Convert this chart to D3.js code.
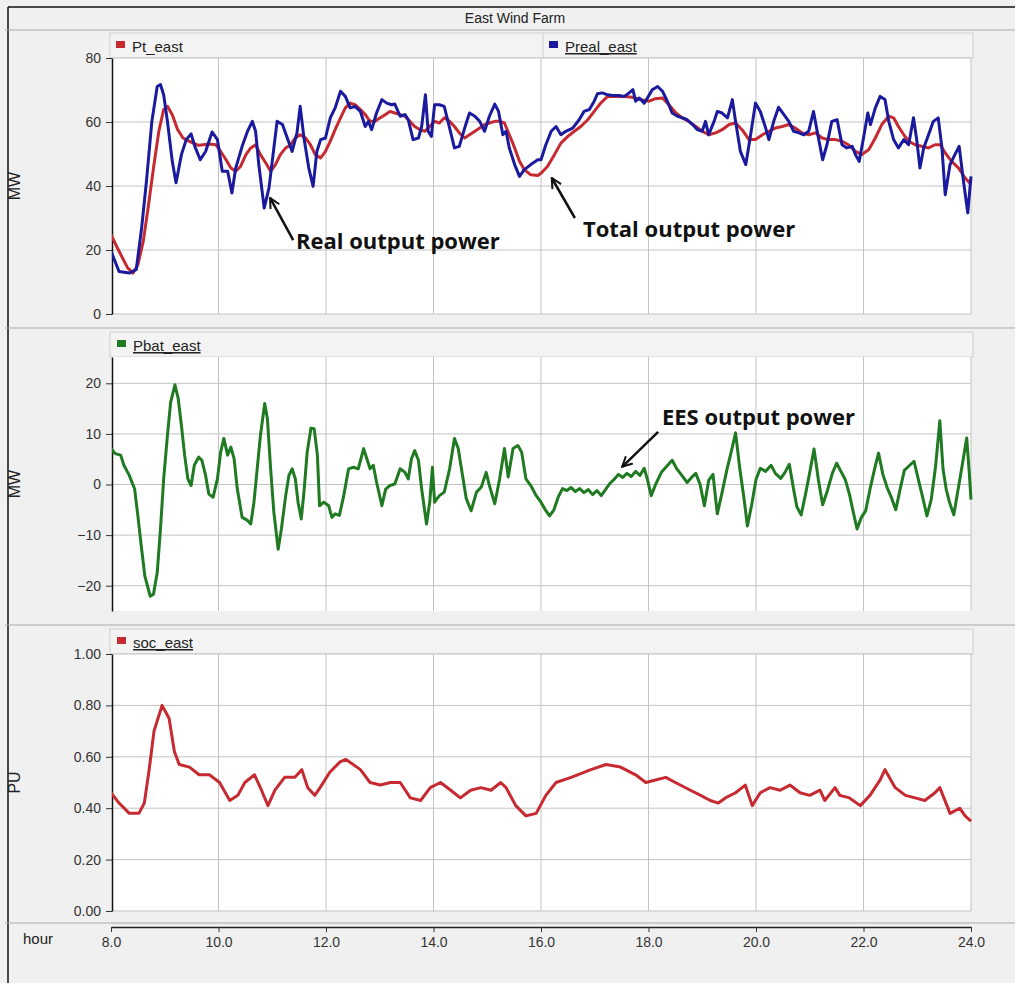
<!DOCTYPE html>
<html>
<head>
<meta charset="utf-8">
<script src="https://cdn.jsdelivr.net/npm/d3@7"></script>
<style>
  body { margin: 0; background: #f0f0f0; }
</style>
</head>
<body>
<svg id="chart" width="1015" height="983"></svg>
<script>
// values: [hour, value]
var hourTicks = [8, 10, 12, 14, 16, 18, 20, 22, 24];
var mwTicks = [0, 20, 40, 60, 80];
var batTicks = [-20, -10, 0, 10, 20];
var socTicks = [0, 0.2, 0.4, 0.6, 0.8, 1.0];

var ptEast = [
  [8.00,24.8],[8.15,19.6],[8.31,14.4],[8.41,12.8],[8.50,15.4],[8.60,22.7],[8.69,33.1],[8.79,45.6],
  [8.89,57.1],[8.98,63.9],[9.05,64.9],[9.14,62.3],[9.24,57.6],[9.34,55.0],[9.43,54.2],[9.53,53.4],
  [9.63,52.7],[9.72,52.9],[9.82,53.1],[9.95,52.9],[10.04,50.8],[10.14,48.2],[10.23,45.6],[10.32,44.6],
  [10.41,46.1],[10.51,49.8],[10.60,51.9],[10.69,52.9],[10.78,49.8],[10.88,47.2],[10.97,44.6],[11.06,46.7],
  [11.15,49.8],[11.25,51.9],[11.34,52.9],[11.43,55.0],[11.52,56.0],[11.62,55.0],[11.71,52.9],[11.80,49.8],
  [11.90,48.8],[11.99,50.8],[12.08,54.0],[12.17,57.6],[12.27,61.3],[12.36,64.4],[12.45,65.9],[12.54,65.4],
  [12.64,63.9],[12.73,62.3],[12.82,60.2],[12.91,60.2],[13.01,61.3],[13.10,62.3],[13.19,63.3],[13.28,62.8],
  [13.38,62.3],[13.47,61.8],[13.56,60.2],[13.65,58.6],[13.75,57.6],[13.84,57.1],[13.93,58.6],[14.02,60.2],
  [14.11,59.7],[14.20,61.3],[14.30,60.2],[14.39,58.6],[14.48,56.6],[14.58,55.0],[14.67,56.0],[14.77,57.1],
  [14.86,58.1],[14.95,59.2],[15.04,59.7],[15.14,60.2],[15.23,60.2],[15.32,59.7],[15.41,56.0],[15.51,51.9],
  [15.60,47.7],[15.69,45.1],[15.81,43.5],[15.94,43.3],[16.00,44.0],[16.12,46.1],[16.25,49.8],[16.37,53.4],
  [16.50,55.5],[16.62,57.1],[16.74,58.6],[16.87,60.7],[16.99,63.3],[17.11,65.9],[17.24,68.0],[17.39,68.0],
  [17.55,68.0],[17.70,67.7],[17.86,67.0],[18.01,66.5],[18.13,67.3],[18.26,67.5],[18.38,65.4],[18.51,62.8],
  [18.63,61.3],[18.75,60.2],[18.88,58.6],[19.00,57.1],[19.12,56.0],[19.25,56.6],[19.37,57.6],[19.50,59.2],
  [19.62,59.7],[19.74,57.6],[19.87,54.5],[19.99,54.5],[20.12,56.0],[20.24,57.1],[20.36,58.1],[20.49,58.6],
  [20.61,59.2],[20.73,58.1],[20.86,56.6],[20.98,56.0],[21.11,56.6],[21.23,55.0],[21.35,54.5],[21.48,54.5],
  [21.60,54.0],[21.72,52.9],[21.85,50.8],[21.97,49.8],[22.10,51.4],[22.22,55.0],[22.34,59.2],[22.47,61.8],
  [22.56,61.3],[22.65,58.6],[22.75,56.0],[22.84,54.0],[22.96,52.9],[23.08,52.4],[23.21,51.9],[23.33,52.9],
  [23.43,52.9],[23.52,50.3],[23.64,47.7],[23.77,45.6],[23.89,42.5],[23.98,40.9],[24.00,42.0]
];

var prealEast = [
  [8.00,19.6],[8.15,13.3],[8.34,12.8],[8.47,13.9],[8.57,26.9],[8.66,41.5],[8.76,60.2],[8.86,71.1],
  [8.92,71.7],[8.98,68.5],[9.05,60.2],[9.14,47.7],[9.21,41.0],[9.31,49.8],[9.40,54.5],[9.49,56.3],
  [9.56,52.4],[9.66,48.2],[9.76,50.8],[9.88,56.9],[9.98,54.5],[10.07,44.6],[10.17,44.6],[10.25,37.8],
  [10.32,45.6],[10.44,52.4],[10.54,57.1],[10.63,60.2],[10.69,57.1],[10.75,46.7],[10.85,33.1],[10.94,39.4],
  [11.03,51.9],[11.09,60.2],[11.19,59.2],[11.28,55.0],[11.37,50.8],[11.46,56.6],[11.52,64.9],[11.59,55.0],
  [11.68,45.6],[11.76,39.9],[11.83,50.8],[11.90,54.5],[11.99,55.0],[12.08,61.3],[12.17,64.4],[12.27,69.6],
  [12.36,68.0],[12.45,64.4],[12.54,64.9],[12.64,63.3],[12.73,58.6],[12.79,60.2],[12.85,57.6],[12.94,62.8],
  [13.04,67.0],[13.13,65.9],[13.22,65.4],[13.28,65.6],[13.38,61.8],[13.47,62.3],[13.53,60.7],[13.62,54.5],
  [13.72,55.0],[13.78,58.6],[13.85,68.5],[13.90,57.1],[13.96,55.5],[14.02,65.4],[14.11,65.4],[14.20,64.9],
  [14.30,58.1],[14.39,51.9],[14.48,52.4],[14.58,58.1],[14.67,62.8],[14.77,61.8],[14.86,60.2],[14.95,57.1],
  [15.04,61.8],[15.14,65.6],[15.21,63.3],[15.29,56.0],[15.35,57.1],[15.41,51.9],[15.51,46.7],[15.60,43.0],
  [15.69,45.1],[15.81,46.7],[15.94,48.2],[16.00,48.2],[16.09,52.9],[16.19,57.1],[16.28,58.6],[16.37,56.0],
  [16.46,57.1],[16.59,58.1],[16.71,60.7],[16.80,63.3],[16.90,63.9],[16.99,66.5],[17.05,68.8],[17.14,69.1],
  [17.24,68.5],[17.33,68.3],[17.45,68.3],[17.55,68.0],[17.64,69.1],[17.71,70.1],[17.76,66.5],[17.83,67.5],
  [17.92,65.9],[17.98,67.5],[18.07,70.1],[18.17,71.1],[18.26,69.6],[18.35,66.5],[18.44,62.8],[18.54,61.8],
  [18.63,61.3],[18.72,60.7],[18.82,59.2],[18.91,57.6],[19.00,57.1],[19.06,60.2],[19.12,56.0],[19.22,60.2],
  [19.28,63.3],[19.37,62.8],[19.47,61.3],[19.56,67.0],[19.62,60.2],[19.71,50.8],[19.81,46.7],[19.90,56.0],
  [19.99,65.9],[20.08,63.3],[20.18,58.1],[20.24,54.5],[20.33,60.2],[20.42,64.6],[20.52,62.3],[20.61,60.2],
  [20.70,57.1],[20.80,56.6],[20.89,56.0],[20.98,57.1],[21.07,63.3],[21.15,56.0],[21.24,48.2],[21.32,52.9],
  [21.41,60.2],[21.51,60.7],[21.60,52.9],[21.69,51.9],[21.79,52.4],[21.85,49.8],[21.92,47.7],[22.00,55.0],
  [22.08,62.8],[22.13,59.2],[22.22,64.4],[22.31,68.0],[22.40,67.0],[22.47,60.2],[22.56,54.5],[22.65,51.9],
  [22.75,54.5],[22.84,52.9],[22.93,61.3],[22.99,54.5],[23.05,45.6],[23.12,51.9],[23.21,56.0],[23.30,60.2],
  [23.39,61.3],[23.46,51.9],[23.52,37.3],[23.61,46.7],[23.70,49.8],[23.78,52.4],[23.86,41.5],[23.94,31.6],
  [24.00,43.0]
];

var pbatEast = [
  [8.00,7.1],[8.08,6.1],[8.18,5.8],[8.24,3.8],[8.34,1.8],[8.44,-0.9],[8.50,-6.2],[8.57,-12.8],
  [8.63,-18.1],[8.73,-22.1],[8.79,-21.7],[8.86,-17.4],[8.92,-8.8],[8.98,1.1],[9.05,9.7],[9.11,16.3],
  [9.19,19.7],[9.25,17.0],[9.31,11.7],[9.37,5.8],[9.43,1.1],[9.49,-0.2],[9.55,3.8],[9.63,5.4],
  [9.69,4.8],[9.76,1.8],[9.82,-1.9],[9.90,-2.5],[9.98,1.1],[10.04,6.4],[10.10,9.1],[10.17,5.8],
  [10.23,7.4],[10.29,5.1],[10.35,-0.9],[10.44,-6.5],[10.54,-7.1],[10.60,-7.8],[10.66,-3.5],[10.72,3.1],
  [10.78,9.7],[10.86,16.0],[10.91,13.0],[10.97,3.1],[11.03,-5.5],[11.11,-12.8],[11.17,-8.8],[11.25,-2.2],
  [11.31,1.8],[11.37,3.1],[11.43,1.1],[11.48,-3.5],[11.54,-6.8],[11.59,-1.5],[11.65,6.4],[11.72,11.1],
  [11.78,11.0],[11.84,5.8],[11.88,-4.2],[11.96,-3.5],[12.05,-4.2],[12.11,-6.5],[12.17,-5.8],[12.25,-6.1],
  [12.33,-2.2],[12.42,3.1],[12.51,3.4],[12.60,3.1],[12.70,7.1],[12.76,5.1],[12.82,3.1],[12.88,3.8],
  [12.94,0.5],[13.04,-4.2],[13.11,-0.9],[13.19,-0.2],[13.28,0.1],[13.38,3.1],[13.47,2.4],[13.53,1.1],
  [13.59,5.1],[13.65,6.7],[13.72,4.8],[13.78,-0.9],[13.87,-7.8],[13.93,-3.5],[13.98,3.4],[14.02,-3.5],
  [14.11,-2.2],[14.20,-1.5],[14.30,3.1],[14.39,9.1],[14.46,7.1],[14.52,3.1],[14.61,-2.8],[14.70,-5.2],
  [14.80,-1.5],[14.89,-0.5],[14.98,2.4],[15.04,-0.2],[15.14,-3.8],[15.23,1.1],[15.32,7.1],[15.39,1.5],
  [15.48,7.1],[15.57,7.7],[15.64,6.4],[15.72,1.1],[15.81,-0.2],[15.91,-2.2],[16.00,-3.5],[16.08,-5.0],
  [16.16,-6.2],[16.24,-5.0],[16.32,-2.5],[16.40,-0.8],[16.48,-1.2],[16.56,-0.6],[16.64,-1.4],[16.72,-0.8],
  [16.80,-1.6],[16.88,-1.0],[16.96,-2.0],[17.04,-1.2],[17.12,-2.2],[17.20,-1.0],[17.28,0.2],[17.36,1.0],
  [17.44,2.0],[17.52,1.4],[17.60,2.2],[17.68,1.6],[17.76,2.6],[17.84,1.8],[17.92,3.2],[17.98,1.0],
  [18.05,-2.2],[18.14,0.2],[18.24,2.4],[18.34,3.6],[18.44,4.8],[18.52,3.2],[18.62,1.8],[18.72,0.4],
  [18.80,1.4],[18.88,2.2],[18.96,0.0],[19.04,-4.2],[19.12,0.8],[19.20,2.0],[19.28,-5.8],[19.36,-2.0],
  [19.46,3.0],[19.54,6.5],[19.62,10.2],[19.70,3.0],[19.78,-3.0],[19.84,-8.2],[19.92,-4.0],[20.00,1.0],
  [20.08,3.2],[20.18,2.6],[20.28,3.8],[20.36,2.2],[20.46,1.2],[20.54,2.4],[20.62,4.0],[20.70,-1.0],
  [20.76,-4.4],[20.84,-6.0],[20.92,-2.0],[21.00,2.4],[21.08,7.0],[21.16,1.0],[21.24,-4.0],[21.32,-1.5],
  [21.42,2.2],[21.50,4.2],[21.58,2.6],[21.66,1.0],[21.74,-2.0],[21.80,-5.0],[21.88,-8.8],[21.96,-6.5],
  [22.04,-5.2],[22.12,-1.0],[22.20,2.8],[22.28,6.2],[22.36,2.0],[22.44,-0.6],[22.52,-2.6],[22.60,-5.0],
  [22.68,-1.0],[22.76,2.8],[22.86,3.8],[22.94,4.6],[23.02,1.0],[23.10,-2.5],[23.18,-6.2],[23.26,-3.0],
  [23.34,3.5],[23.42,12.6],[23.48,3.0],[23.54,-1.0],[23.60,-3.5],[23.68,-6.0],[23.76,-1.0],[23.84,4.0],
  [23.92,9.2],[23.97,2.0],[24.00,-3.0]
];

var socEast = [
  [8.00,0.46],[8.15,0.42],[8.34,0.38],[8.52,0.38],[8.62,0.42],[8.71,0.55],[8.80,0.70],[8.95,0.80],
  [9.08,0.75],[9.18,0.62],[9.27,0.57],[9.46,0.56],[9.64,0.53],[9.83,0.53],[10.02,0.50],[10.21,0.43],
  [10.36,0.45],[10.49,0.50],[10.67,0.53],[10.80,0.47],[10.92,0.41],[11.05,0.47],[11.23,0.52],[11.42,0.52],
  [11.55,0.55],[11.66,0.48],[11.79,0.45],[11.89,0.48],[12.07,0.54],[12.26,0.58],[12.37,0.59],[12.64,0.55],
  [12.82,0.50],[13.01,0.49],[13.20,0.50],[13.38,0.50],[13.57,0.44],[13.76,0.43],[13.94,0.48],[14.13,0.50],
  [14.32,0.47],[14.50,0.44],[14.69,0.47],[14.88,0.48],[15.07,0.47],[15.25,0.50],[15.35,0.48],[15.53,0.41],
  [15.72,0.37],[15.91,0.38],[16.09,0.45],[16.28,0.50],[16.56,0.52],[16.93,0.55],[17.21,0.57],[17.48,0.56],
  [17.76,0.53],[17.95,0.50],[18.13,0.51],[18.32,0.52],[18.50,0.50],[18.78,0.47],[18.97,0.45],[19.15,0.43],
  [19.30,0.42],[19.43,0.44],[19.62,0.46],[19.80,0.49],[19.93,0.41],[20.08,0.46],[20.26,0.48],[20.45,0.47],
  [20.63,0.49],[20.82,0.46],[21.00,0.45],[21.19,0.47],[21.28,0.43],[21.47,0.48],[21.56,0.45],[21.74,0.44],
  [21.94,0.41],[22.12,0.45],[22.31,0.51],[22.40,0.55],[22.59,0.48],[22.78,0.45],[22.96,0.44],[23.14,0.43],
  [23.33,0.46],[23.42,0.48],[23.61,0.38],[23.79,0.40],[23.89,0.37],[24.00,0.35]
];

// text callouts: [tip hour, tip value, tail hour, tail value, text hour, text value]
var callouts = [
  {panel: 0, text: "Real output power", pos: [10.96, 36.3, 11.39, 23.1, 11.44, 20.3]},
  {panel: 0, text: "Total output power", pos: [16.20, 42.5, 16.63, 30.0, 16.78, 24.0]},
  {panel: 1, text: "EES output power", pos: [17.51, 3.5, 18.18, 10.4, 18.25, 11.8]}
];

var svg = d3.select("#chart"),
    width = +svg.attr("width"),
    height = +svg.attr("height");

var baseFont = "Liberation Sans, Arial, sans-serif";
var plotLeft = 112, plotRight = 971;
var x = d3.scaleLinear().domain([8, 24]).range([111, 971]);

svg.append("rect").attr("width", width).attr("height", height).attr("fill", "#f0f0f0");

var defs = svg.append("defs");
defs.append("marker")
    .attr("id", "arrow")
    .attr("viewBox", "0 0 10 10")
    .attr("refX", 9).attr("refY", 5)
    .attr("markerWidth", 5).attr("markerHeight", 5)
    .attr("orient", "auto")
  .append("path")
    .attr("d", "M1,1 L9,5 L1,9")
    .attr("fill", "none")
    .attr("stroke", "#111")
    .attr("stroke-width", 1.6);

// outer frame + title band
svg.append("line").attr("x1", 8).attr("x2", 8).attr("y1", 7).attr("y2", height)
    .attr("stroke", "#111").attr("stroke-width", 1.5);
svg.append("line").attr("x1", 8).attr("x2", width).attr("y1", 7).attr("y2", 7)
    .attr("stroke", "#111").attr("stroke-width", 1.5);
svg.append("text").attr("x", 515).attr("y", 23)
    .attr("text-anchor", "middle").attr("font-family", baseFont)
    .attr("font-size", 14).attr("fill", "#222")
    .text("East Wind Farm");

[30, 328, 625, 923].forEach(function (yy) {
    svg.append("line").attr("x1", 5).attr("x2", width).attr("y1", yy).attr("y2", yy)
        .attr("stroke", "#a9a9a9").attr("stroke-width", 1);
});

var panels = [
    {top: 58, bottom: 314, domain: [0, 80], ticks: mwTicks, fmt: d3.format("d"), label: "MW",
     series: [{name: "Pt_east", data: ptEast, color: "#c62a30", lx: 116, underline: false},
              {name: "Preal_east", data: prealEast, color: "#1a1a9e", lx: 549, underline: true}]},
    {top: 357, bottom: 611, domain: [-25, 25.2], ticks: batTicks, fmt: d3.format("d"), label: "MW",
     series: [{name: "Pbat_east", data: pbatEast, color: "#1f7a22", lx: 117, underline: true}]},
    {top: 654, bottom: 911, domain: [0, 1], ticks: socTicks, fmt: d3.format(".2f"), label: "PU",
     series: [{name: "soc_east", data: socEast, color: "#c62a30", lx: 117, underline: true}]}
];

panels.forEach(function (p, i) {
    var y = d3.scaleLinear().domain(p.domain).range([p.bottom, p.top]);
    p.y = y;
    var g = svg.append("g");

    // legend bar
    g.append("rect")
        .attr("x", 110).attr("y", p.top - 25)
        .attr("width", 863).attr("height", 25)
        .attr("fill", "#f3f3f3").attr("stroke", "#cfcfcf");
    if (p.series.length > 1) {
        g.append("line").attr("x1", 543).attr("x2", 543)
            .attr("y1", p.top - 25).attr("y2", p.top).attr("stroke", "#cfcfcf");
    }
    p.series.forEach(function (s) {
        g.append("rect").attr("x", s.lx).attr("y", p.top - 17)
            .attr("width", 9).attr("height", 7).attr("fill", s.color);
        g.append("text").attr("x", s.lx + 16).attr("y", p.top - 6)
            .attr("font-family", baseFont).attr("font-size", 15).attr("fill", "#222")
            .attr("text-decoration", s.underline ? "underline" : null)
            .text(s.name);
    });

    // plot area
    g.append("rect").attr("x", plotLeft).attr("y", p.top)
        .attr("width", plotRight - plotLeft).attr("height", p.bottom - p.top)
        .attr("fill", "#fff");

    g.append("g").selectAll("line").data(p.ticks).enter().append("line")
        .attr("x1", plotLeft).attr("x2", plotRight)
        .attr("y1", function (d) { return y(d); })
        .attr("y2", function (d) { return y(d); })
        .attr("stroke", "#c3c3c3");
    g.append("g").selectAll("line").data(hourTicks.slice(1)).enter().append("line")
        .attr("x1", function (d) { return x(d); })
        .attr("x2", function (d) { return x(d); })
        .attr("y1", p.top).attr("y2", p.bottom)
        .attr("stroke", "#c3c3c3");

    var axis = g.append("g")
        .attr("transform", "translate(" + plotLeft + ",0)")
        .call(d3.axisLeft(y).tickValues(p.ticks).tickFormat(p.fmt).tickSize(6).tickSizeOuter(0).tickPadding(5));
    axis.select(".domain").attr("stroke", "#111").attr("stroke-width", 1.5);
    axis.selectAll(".tick line").attr("stroke", "#333");
    axis.selectAll(".tick text").attr("font-size", 14).attr("fill", "#333")
        .attr("font-family", baseFont);

    g.append("text")
        .attr("transform", "translate(20," + ((p.top + p.bottom) / 2) + ") rotate(-90)")
        .attr("text-anchor", "middle").attr("font-family", baseFont)
        .attr("font-size", 16).attr("fill", "#222")
        .text(p.label);

    var clipId = "clip" + i;
    defs.append("clipPath").attr("id", clipId).append("rect")
        .attr("x", plotLeft).attr("y", p.top - 2)
        .attr("width", plotRight - plotLeft + 2).attr("height", p.bottom - p.top + 4);

    var line = d3.line()
        .x(function (d) { return x(d[0]); })
        .y(function (d) { return y(d[1]); });

    g.append("g").attr("clip-path", "url(#" + clipId + ")")
        .selectAll("path").data(p.series).enter().append("path")
        .attr("d", function (s) { return line(s.data); })
        .attr("fill", "none")
        .attr("stroke", function (s) { return s.color; })
        .attr("stroke-width", 3)
        .attr("stroke-linejoin", "round");
});

// bottom hour axis
var xAxis = svg.append("g")
    .attr("transform", "translate(0,927)")
    .call(d3.axisBottom(x).tickValues(hourTicks).tickFormat(d3.format(".1f")).tickSize(5).tickSizeOuter(0).tickPadding(5));
xAxis.select(".domain").attr("stroke", "#222").attr("stroke-width", 1.5);
xAxis.selectAll(".tick line").attr("stroke", "#333");
xAxis.selectAll(".tick text").attr("font-size", 14).attr("fill", "#333")
    .attr("font-family", baseFont);
svg.append("text").attr("x", 23).attr("y", 944)
    .attr("font-family", baseFont).attr("font-size", 15).attr("fill", "#222").text("hour");

// callouts
callouts.forEach(function (c) {
    var y = panels[c.panel].y, q = c.pos;
    svg.append("line")
        .attr("x1", x(q[2])).attr("y1", y(q[3]))
        .attr("x2", x(q[0])).attr("y2", y(q[1]))
        .attr("stroke", "#111").attr("stroke-width", 2.5)
        .attr("marker-end", "url(#arrow)");
    svg.append("text")
        .attr("x", x(q[4])).attr("y", y(q[5]))
        .attr("font-family", "Open Sans, Noto Sans, sans-serif")
        .attr("font-weight", "bold").attr("font-size", 22).attr("fill", "#111")
        .text(c.text);
});
</script>
</body>
</html>
